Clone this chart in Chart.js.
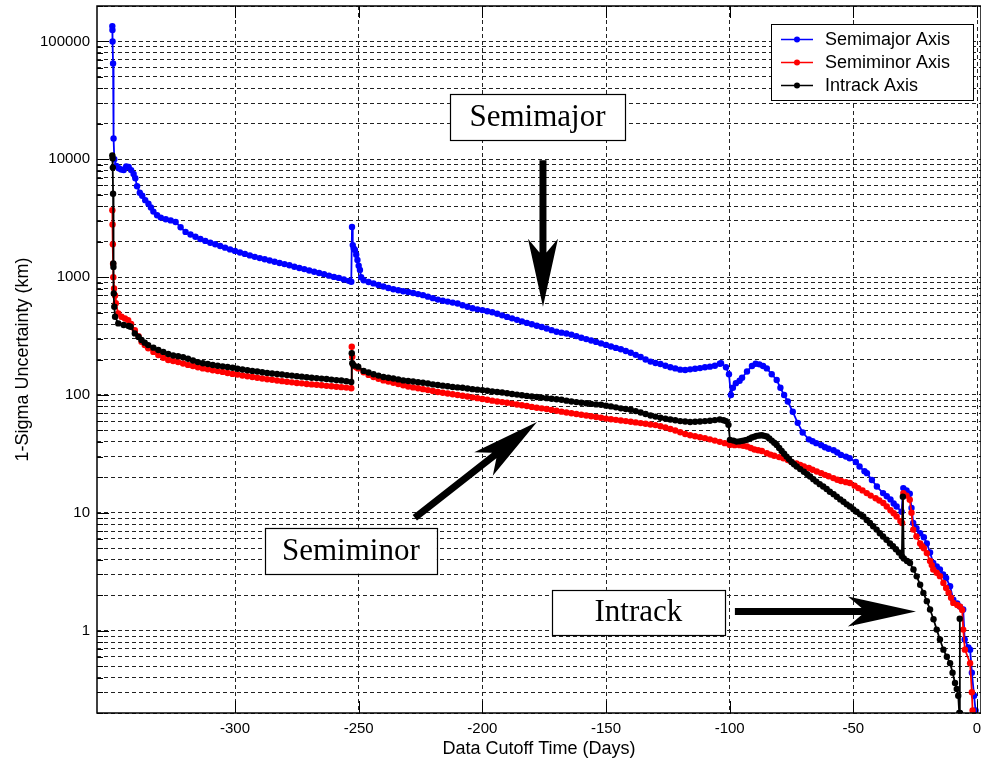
<!DOCTYPE html>
<html><head><meta charset="utf-8">
<script src="https://cdn.jsdelivr.net/npm/chart.js@4.4.0/dist/chart.umd.min.js"></script>
<style>html,body{margin:0;padding:0;background:#fff;}canvas{display:block;}</style>
</head><body><canvas id="c" width="981" height="763"></canvas>
<script>
const seriesNames = ['Semimajor Axis', 'Semiminor Axis', 'Intrack Axis'];
const seriesColors = ['#0000ff', '#ff0000', '#000000'];

// [day, km] pairs
const semimajor = [[-349.6,135000],[-349.55,125000],[-349.5,100000],[-349.3,65000],[-349.1,15000],[-348.8,10000],[-348.0,8800],[-347.0,8400],[-346.0,8200],[-345.0,8100],[-344.0,8700],[-343.0,8600],[-342.0,8100],[-341.0,7500],[-340.3,6900],[-339.6,5900],[-338.5,5200],[-337.5,4900],[-336.3,4500],[-335.0,4200],[-334.0,3900],[-333.0,3600],[-331.5,3350],
[-330,3200],[-328,3100],[-326,3030],[-324,2940],[-322,2650],[-320,2420],[-318,2300],[-316,2200],[-314,2110],[-312,2030],[-310,1960],[-308,1900],[-306,1840],[-304,1780],[-302,1720],[-300,1670],[-298,1620],[-296,1575],[-294,1530],[-292,1487],[-290,1450],[-288,1420],[-286,1385],[-284,1350],[-282,1320],[-280,1290],[-278,1260],[-276,1225],[-274,1195],[-272,1170],[-270,1140],[-268,1110],[-266,1085],[-264,1060],[-262,1030],[-260,1005],[-258,985],[-256,955],[-254,930],[-253,915],
[-252.7,2670],[-252.4,1870],[-252.0,1750],[-251.5,1700],[-251.0,1550],[-250.5,1400],[-250.0,1250],[-249.5,1150],[-249.0,1000],
[-248,940],[-246,910],[-244,885],[-242,858],[-240,833],[-238,808],[-236,790],[-234,775],[-232,760],[-230,748],[-228,733],[-226,718],[-224,703],[-222,683],[-220,663],[-218,645],[-216,630],[-214,620],[-212,608],[-210,597],[-208,578],[-206,561],[-204,545],[-202,533],[-200,525],[-198,513],[-196,503],[-194,489],[-192,474],[-190,460],[-188,447],[-186,434],[-184,421],[-182,409],[-180,398],[-178,387],[-176,377],[-174,366],[-172,355],[-170,344],[-168,338],[-166,332],[-164,325],[-162,316],[-160,306],[-158,298],[-156,290],[-154,282],[-152,274],[-150,266],[-148,258],[-146,251],[-144,244],[-142,236],[-140,228],[-138,219],[-136,210],[-134,200],[-132,192],[-130,187],[-128,183],[-126,177],[-124,172],[-122,168],[-120,164],[-118,163],[-116,165],[-114,167],[-112,169],[-110,172],[-108,174],[-106,177],[-104,184],[-103.5,186],
[-101.5,172],[-100.3,150],[-99.5,100],[-98.7,115],[-97.5,126],[-96.0,132],[-95.0,140],[-93.0,158],[-91.0,176],[-89.5,184],[-88.0,182],[-86.5,176],[-85.0,168],[-83.0,150],[-81.0,134],[-79.5,115],[-78.0,100],[-76.5,88],[-74.5,72],[-72.5,58],[-70.5,48],[-68.0,42],[-66.5,40.5],[-65.0,39],[-63.0,37.5],[-61.5,36],[-60,35],[-58.0,34],[-56.5,32.5],[-55.0,31],[-53,30],[-51.5,29],[-49.0,27],[-47.5,24.7],[-45.5,22.5],[-44.5,21.7],[-42.5,19],[-40.5,16.7],[-38.0,14.7],[-36.5,13.8],[-35.0,13],[-33.7,12],[-32.5,11.3],[-30.5,10.2],
[-29.8,16.2],[-28.5,15.5],[-27.2,14.5],[-26.5,11],[-25.8,8.2],[-24.5,7.4],[-23.0,6.7],[-21.5,6.2],[-20.3,5.5],[-19.0,4.6],[-17.7,3.75],[-16.3,3.5],[-15.0,3.3],[-13.7,3.0],[-12.5,2.8],[-10.9,2.38],[-9.6,1.83],[-8.0,1.7],[-6.9,1.6],[-5.6,1.51],[-5.0,0.84],[-3.5,0.72],[-2.8,0.69],[-2.1,0.44],[-1.2,0.28],[-0.6,0.21]];

const semiminor = [[-349.6,3700],[-349.5,2800],[-349.4,1900],[-349.3,1300],[-349.2,1000],[-348.9,800],[-348.5,700],[-348.2,600],[-347.2,491],[-345.9,461],[-344.5,445],[-343.2,432],[-342.0,400],[-340.5,355],[-339.0,315],[-337.8,283],[-336.5,265],[-335.1,249],[-333.0,232],
[-331,218],[-329,207],[-327,198],[-325,194],[-323,190],[-321,185],[-319,180],[-317,176],[-315,172],[-313,168],[-311,165.5],[-309,162],[-307,159.5],[-305,157],[-303,153.5],[-301,151],[-299,149],[-297,146.5],[-295,144],[-293,142],[-291,140],[-289,138],[-287,136],[-285,134.5],[-283,132.5],[-281,131],[-279,129.5],[-277,128],[-275,126.5],[-273,125.5],[-271,124],[-269,123],[-267,122],[-265,121],[-263,119.5],[-261,118.5],[-259,117.5],[-257,116.5],[-255,115.5],[-253,114],
[-252.8,257],[-252.6,211],[-252.2,180],[-251.0,172],[-250.2,168],[-248.0,156],
[-246,148],[-244,142],[-242,137],[-240,133],[-238,130],[-236,127],[-234,124],[-232,121],[-230,118],[-228,116],[-226,114],[-224,112],[-222,110],[-220,108],[-218,106],[-216,104.5],[-214,103],[-212,101.5],[-210,100],[-208,98.5],[-206,97],[-204,95.5],[-202,94],[-200,92.5],[-198,91],[-196,89.5],[-194,88],[-192,87],[-190,86],[-188,84.5],[-186,83],[-184,81.7],[-182,80.5],[-180,79.2],[-178,78],[-176,77],[-174,76],[-172,74.7],[-170,73.5],[-168,72.2],[-166,71],[-164,70],[-162,69],[-160,68],[-158,67],[-156,66],[-154,65],[-152,64],[-150,63],[-148,62.2],[-146,61.5],[-144,60.7],[-142,60],[-140,59.2],[-138,58.5],[-136,57.7],[-134,57],[-132,56.2],[-130,55.5],[-128,54.3],[-126,53],[-124,51.5],[-122,50],[-120,48.3],[-118,46.6],[-116,45.5],[-114,44.6],[-112,43.8],[-110,43],[-108,42],[-106,41],[-104,40],[-102,39],[-100,37.7],
[-98,37.5],[-96,37.5],[-94.5,37],[-93,36.5],[-91.5,35.5],[-90,34.5],[-88.5,34],[-87,33.5],[-85,32],[-83.5,31.2],[-82,30.5],[-80,29.7],[-78.3,29],[-76.5,28],[-75,27],[-73,26.2],[-71.5,25.5],[-70,24.8],[-68,24],[-66.5,23.2],[-64.8,22.4],[-63,21.7],[-61.5,21],[-60,20.4],[-58.1,19.7],[-56.5,19.1],[-55,18.6],[-53,18.2],[-51.4,17.9],[-49.5,17],[-48,16.2],[-46.3,15.5],[-44.6,14.7],[-43,14],[-41,13.3],[-39.5,12.7],[-37.9,12.1],[-36.5,11.3],[-35,10.5],[-33.7,9.9],[-32.5,9.3],[-31,8.5],[-30.3,8.2],
[-29.8,14.7],[-28.5,14],[-27.2,12.9],[-26.5,10],[-25.8,7.2],[-24.5,6.3],[-23.0,5.5],[-22.2,5.2],[-21.5,5],[-20.3,4.55],[-19.0,3.9],[-18.3,3.6],[-17.7,3.3],[-16.3,3.1],[-15.0,2.9],[-13.6,2.54],[-12.5,2.3],[-11.5,2.1],[-10.5,1.9],[-9.6,1.72],[-8.0,1.65],[-6.9,1.6],[-6.0,1.5],[-5.6,1.02],[-4.9,0.69],[-2.8,0.53],[-2.1,0.3],[-1.8,0.21]];

const intrack = [[-349.6,10800],[-349.5,10200],[-349.4,8500],[-349.3,5100],[-349.2,1306],[-349.15,1222],[-349.0,727],[-348.8,560],[-348.5,461],[-347.2,405],[-345.0,392],[-343.0,385],[-342.2,379],[-340.5,333],[-339.0,310],[-337.8,293],[-336.5,278],[-335.1,265],[-333.0,252],
[-331,241],[-329,232],[-327,223],[-325,216],[-323,213],[-321,209],[-319,203],[-317,196],[-315,190],[-313,186],[-311,183],[-309,179.5],[-307,177],[-305,175],[-303,172.5],[-301,170],[-299,167],[-297,164.5],[-295,162],[-293,160],[-291,158],[-289,156],[-287,154],[-285,152],[-283,150.5],[-281,149],[-279,147.5],[-277,146],[-275,144.5],[-273,143],[-271,141.5],[-269,140],[-267,139],[-265,137.7],[-263,136.5],[-261,135],[-259,133.7],[-257,132.5],[-255,131],[-253,129],
[-252.8,226],[-252.6,186],[-252.0,178],[-250.2,174],[-248.0,160],
[-246,155],[-244,150],[-242,146],[-240,142],[-238,140],[-236,138],[-234,135.5],[-232,133],[-230,131.5],[-228,130],[-226,128.5],[-224,127],[-222,125],[-220,123],[-218,121.5],[-216,120],[-214,118.5],[-212,117],[-210,116],[-208,115],[-206,113.5],[-204,112],[-202,111],[-200,110],[-198,108.5],[-196,107],[-194,106],[-192,105],[-190,103.5],[-188,102],[-186,100.7],[-184,99.5],[-182,98.2],[-180,97],[-178,96],[-176,95],[-174,94],[-172,93],[-170,92],[-168,91],[-166,89.5],[-164,88],[-162,87],[-160,86],[-158,85],[-156,84],[-154,83.2],[-152,82.5],[-150,81.2],[-148,80],[-146,78.5],[-144,77],[-142,76],[-140,75],[-138,73],[-136,71],[-134,69],[-132,67],[-130,65.5],[-128,64],[-126,63],[-124,62],[-122,61],[-120,60],[-118,59.5],[-116,59],[-114,59.2],[-112,59.5],[-110,60],[-108,60.5],[-106,61.2],[-104,62],[-102.5,61],[-101.5,60],[-100.5,55.8],
[-99.9,41.6],[-98.5,41],[-97.2,40.2],[-96,40.4],[-95,40.8],[-94,41.2],[-93.1,41.6],[-92,42.5],[-91,43.5],[-90,44.3],[-89.1,45],[-88,45.3],[-87,45.5],[-86,45],[-85,44.4],[-84,42.8],[-83,41],[-82,39.3],[-81,37.7],[-80,35.5],[-79,33.5],[-78,31.7],[-77,30],[-76,28.5],[-75,27],[-74,25.8],[-72.9,24.7],[-71.5,23.5],[-70,22.3],[-68.7,21.3],[-67.5,20.3],[-66.2,19.3],[-65,18.4],[-63.6,17.5],[-62.2,16.7],[-60.8,15.9],[-59.5,15.1],[-58,14.4],[-56.7,13.7],[-55.3,13],[-54,12.4],[-52.7,11.8],[-51.4,11.3],[-50,10.7],[-48.7,10.2],[-47.3,9.7],[-46,9.3],[-44.6,8.7],[-43.3,8.2],[-42,7.7],[-40.6,7.2],[-39.3,6.7],[-38,6.3],[-36.6,5.9],[-35.2,5.5],[-34,5.2],[-32.8,4.9],[-31.6,4.6],[-30.4,4.27],
[-30,13.7],[-29.6,4.1],[-28.3,3.9],[-27.1,3.75],[-25.7,3.3],[-24.4,2.89],[-23,2.45],[-21.7,2.09],[-20.3,1.78],[-19,1.51],[-17.6,1.25],[-16.3,1.02],[-15,0.84],[-13.6,0.69],[-12.2,0.6],[-10.9,0.53],[-9.9,0.44],[-8.9,0.36],[-8.2,0.32],[-7.6,0.28],[-7.2,0.2],[-7.0,1.26],[-6.9,0.2]];

const xTickValues = [-300, -250, -200, -150, -100, -50, 0];
const yLabelValues = [1, 10, 100, 1000, 10000, 100000];
const yDecades = [0.1, 1, 10, 100, 1000, 10000, 100000];
const yFactors = [1, 2, 3, 4, 5, 6, 7, 8, 9];

const noteLabels = ['Semimajor', 'Semiminor', 'Intrack'];
// boxes [xLeft, xRight, yTop, yBottom] and arrows [x1, y1, x2, y2] in data units
const noteBoxes = [[-213.1, -142.3, 35560, 14490], [-287.9, -218.4, 7.46, 3.04], [-171.9, -101.9, 2.22, 0.925]];
const noteArrows = [[-175.5, 9800, -175.5, 560], [-227.3, 9.07, -177.9, 59], [-97.9, 1.45, -24.7, 1.45]];

const yGridValues = [];
yDecades.forEach(d => yFactors.forEach(f => { const v = f * d; if (v >= 0.2 - 1e-9 && v <= 200000) yGridValues.push(v); }));

function mk(pairs) { return pairs.map(p => ({x: p[0], y: p[1]})); }

const FONT = 'Liberation Sans';

function drawArrow(ctx, x1, y1, x2, y2, shaftW, headLen, headW) {
  const dx = x2 - x1, dy = y2 - y1, L = Math.hypot(dx, dy);
  const ux = dx / L, uy = dy / L, px = -uy, py = ux;
  const bx = x2 - ux * headLen, by = y2 - uy * headLen;
  const nx = x2 - ux * headLen * 0.8, ny = y2 - uy * headLen * 0.8;
  ctx.beginPath();
  ctx.moveTo(x1 + px * shaftW / 2, y1 + py * shaftW / 2);
  ctx.lineTo(nx + px * shaftW / 2, ny + py * shaftW / 2);
  ctx.lineTo(bx + px * headW / 2, by + py * headW / 2);
  ctx.lineTo(x2, y2);
  ctx.lineTo(bx - px * headW / 2, by - py * headW / 2);
  ctx.lineTo(nx - px * shaftW / 2, ny - py * shaftW / 2);
  ctx.lineTo(x1 - px * shaftW / 2, y1 - py * shaftW / 2);
  ctx.closePath();
  ctx.fill();
}

const decorPlugin = {
  id: 'decor',
  afterDatasetsDraw(chart) {
    const {ctx, scales: {x, y}, chartArea: a} = chart;
    ctx.save();
    ctx.strokeStyle = '#000';
    ctx.lineWidth = 1.5;
    ctx.strokeRect(a.left, a.top, a.right - a.left, a.bottom - a.top);
    ctx.lineWidth = 1;
    ctx.beginPath();
    yGridValues.forEach(v => {
      const py = Math.round(y.getPixelForValue(v)) + 0.5;
      const len = yLabelValues.includes(v) ? 12 : 6;
      ctx.moveTo(a.left, py); ctx.lineTo(a.left + len, py);
    });
    xTickValues.forEach(v => {
      const px = Math.round(x.getPixelForValue(v)) + 0.5;
      ctx.moveTo(px, a.bottom); ctx.lineTo(px, a.bottom - 12);
      ctx.moveTo(px, a.top); ctx.lineTo(px, a.top + 12);
    });
    ctx.stroke();
    ctx.font = '31px "Liberation Serif"';
    ctx.textAlign = 'center';
    ctx.textBaseline = 'middle';
    noteBoxes.forEach((b, i) => {
      const l = x.getPixelForValue(b[0]), r = x.getPixelForValue(b[1]);
      const t = y.getPixelForValue(b[2]), bt = y.getPixelForValue(b[3]);
      ctx.fillStyle = '#fff';
      ctx.fillRect(l, t, r - l, bt - t);
      ctx.strokeStyle = '#000';
      ctx.lineWidth = 1.2;
      ctx.strokeRect(Math.round(l) + 0.5, Math.round(t) + 0.5, Math.round(r - l), Math.round(bt - t));
      ctx.fillStyle = '#000';
      ctx.fillText(noteLabels[i], (l + r) / 2, (t + bt) / 2 + 1);
    });
    ctx.fillStyle = '#000';
    noteArrows.forEach(ar => {
      drawArrow(ctx, x.getPixelForValue(ar[0]), y.getPixelForValue(ar[1]),
        x.getPixelForValue(ar[2]), y.getPixelForValue(ar[3]), 7, 68, 30);
    });
    const lx = 771, ly = 24, lw = 202, lh = 76;
    ctx.fillStyle = '#fff';
    ctx.fillRect(lx, ly, lw, lh);
    ctx.strokeStyle = '#000';
    ctx.lineWidth = 1;
    ctx.strokeRect(lx + 0.5, ly + 0.5, lw, lh);
    ctx.font = '18px "' + FONT + '"';
    ctx.textAlign = 'left';
    ctx.textBaseline = 'middle';
    seriesNames.forEach((n, i) => {
      const yy = ly + 15.5 + i * 23;
      ctx.strokeStyle = seriesColors[i];
      ctx.lineWidth = 1.5;
      ctx.beginPath(); ctx.moveTo(781, yy); ctx.lineTo(813, yy); ctx.stroke();
      ctx.fillStyle = seriesColors[i];
      ctx.beginPath(); ctx.arc(797, yy, 3, 0, Math.PI * 2); ctx.fill();
      ctx.fillStyle = '#000';
      ctx.fillText(n, 825, yy + 1);
    });
    ctx.restore();
  }
};

function ds(i, pairs, order) {
  return {
    label: seriesNames[i], data: mk(pairs), order: order,
    borderColor: seriesColors[i], backgroundColor: seriesColors[i],
    borderWidth: 1.8, pointRadius: 3.2, pointBorderWidth: 0, pointHoverRadius: 3.2,
    tension: 0, fill: false
  };
}

function zeroPad(s) { s.paddingTop = 0; s.paddingBottom = 0; s.paddingLeft = 0; s.paddingRight = 0; }

new Chart(document.getElementById('c'), {
  type: 'line',
  data: {
    datasets: [
      ds(0, semimajor, 3),
      ds(1, semiminor, 2),
      ds(2, intrack, 1)
    ]
  },
  options: {
    responsive: false,
    animation: false,
    devicePixelRatio: 1,
    layout: {padding: {top: 6, right: 0, bottom: 0, left: 0}, autoPadding: false},
    plugins: {legend: {display: false}, tooltip: {enabled: false}},
    scales: {
      x: {
        type: 'linear', min: -355.8, max: 1.6,
        afterBuildTicks: s => { s.ticks = xTickValues.map(v => ({value: v})); },
        afterFit: s => { s.height = 50; zeroPad(s); },
        ticks: {autoSkip: false, maxRotation: 0, padding: 7, color: '#000',
          font: {family: FONT, size: 15}, callback: v => String(v)},
        grid: {color: '#222', lineWidth: 1, drawTicks: false},
        border: {display: false, dash: [4, 3]},
        title: {display: true, text: 'Data Cutoff Time (Days)', color: '#000',
          font: {family: FONT, size: 18}, padding: {top: 0, bottom: 3}}
      },
      y: {
        type: 'logarithmic', min: 0.2, max: 200000,
        afterBuildTicks: s => { s.ticks = yGridValues.map(v => ({value: v})); },
        afterFit: s => { s.width = 97; zeroPad(s); },
        ticks: {autoSkip: false, padding: 7, color: '#000',
          font: {family: FONT, size: 15},
          callback: v => yLabelValues.includes(v) ? String(v) : ''},
        grid: {color: '#222', lineWidth: 1, drawTicks: false},
        border: {display: false, dash: [4, 3]},
        title: {display: true, text: '1-Sigma Uncertainty (km)', color: '#000',
          font: {family: FONT, size: 18}, padding: {top: 12, bottom: 0}}
      }
    }
  },
  plugins: [decorPlugin]
});
</script>
</body></html>
